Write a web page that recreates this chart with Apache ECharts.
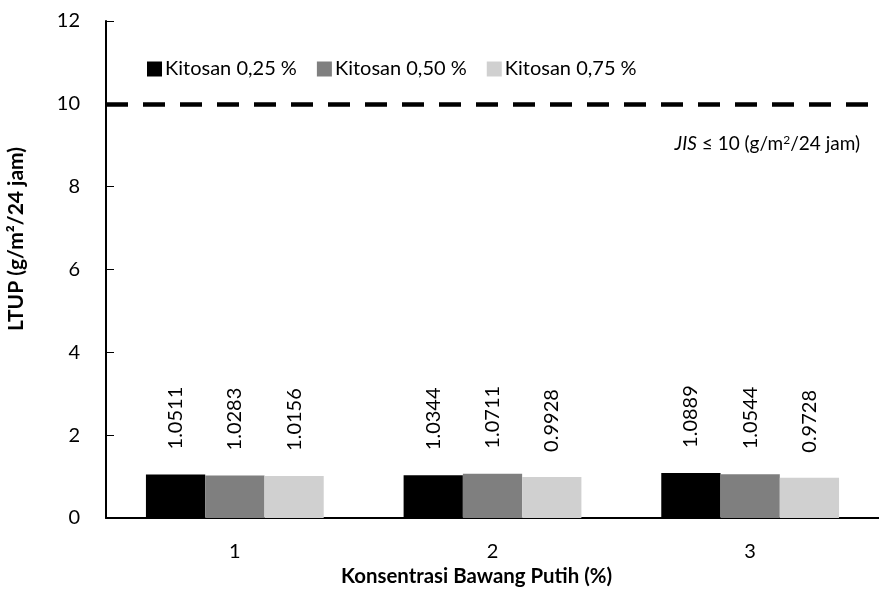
<!DOCTYPE html>
<html>
<head>
<meta charset="utf-8">
<script src="https://cdn.jsdelivr.net/npm/echarts@6/dist/echarts.min.js"></script>
<style>
  html, body { margin: 0; padding: 0; background: #fff; }
  #chart { width: 879px; height: 593px; }
</style>
</head>
<body>
<div id="chart"></div>
<script>
// data
const categories = ['1', '2', '3'];
const seriesNames = ['Kitosan 0,25 %', 'Kitosan 0,50 %', 'Kitosan 0,75 %'];
const kitosan025 = [1.0511, 1.0344, 1.0889];
const kitosan050 = [1.0283, 1.0711, 1.0544];
const kitosan075 = [1.0156, 0.9928, 0.9728];
const jisLimit = 10;
const yTicks = { min: 0, max: 12, interval: 2 };

const FONT = 'Lato';
const colors = ['#000000', '#7f7f7f', '#d0d0d0'];
const values = [kitosan025, kitosan050, kitosan075];

const chart = echarts.init(document.getElementById('chart'));

const series = values.map((vals, i) => ({
  name: seriesNames[i],
  type: 'bar',
  data: vals,
  barGap: '0%',
  barCategoryGap: '31%',
  itemStyle: { color: colors[i] },
  label: {
    show: true,
    position: 'top',
    rotate: 90,
    align: 'left',
    verticalAlign: 'middle',
    distance: 25,
    color: '#000',
    fontFamily: FONT,
    fontSize: 20,
    formatter: p => p.value.toFixed(4)
  }
}));

// JIS limit line
series[0].markLine = {
  silent: true,
  symbol: 'none',
  label: { show: false },
  lineStyle: { color: '#000', width: 4.5, type: [22, 15] },
  data: [{ yAxis: jisLimit }]
};

chart.setOption({
  animation: false,
  grid: { left: 106, right: -12, top: 21, bottom: 75 },
  legend: {
    data: seriesNames,
    left: 142, top: 54,
    itemWidth: 15, itemHeight: 15, itemGap: 20,
    icon: 'rect',
    textStyle: { fontFamily: FONT, fontSize: 20, color: '#000', padding: [0, 0, 0, -2] }
  },
  xAxis: {
    type: 'category',
    data: categories,
    axisLine: { lineStyle: { color: '#000', width: 2 } },
    axisTick: { inside: true, alignWithLabel: true, length: 6, lineStyle: { color: '#000' } },
    axisLabel: { fontFamily: FONT, fontSize: 20, color: '#000', margin: 24 }
  },
  yAxis: {
    type: 'value',
    min: yTicks.min, max: yTicks.max, interval: yTicks.interval,
    splitLine: { show: false },
    axisLine: { show: true, lineStyle: { color: '#000', width: 2 } },
    axisTick: { show: true, inside: true, length: 8, lineStyle: { color: '#000' } },
    axisLabel: { fontFamily: FONT, fontSize: 20, color: '#000', margin: 26 }
  },
  graphic: [
    {
      type: 'text',
      left: 341, top: 566,
      style: { text: 'Konsentrasi Bawang Putih (%)', font: 'bold 20.4px ' + FONT, fill: '#000' }
    },
    {
      type: 'text',
      x: 16, y: 239, rotation: Math.PI / 2,
      style: {
        text: 'LTUP (g/m²/24 jam)', font: 'bold 21px ' + FONT, fill: '#000',
        align: 'center', verticalAlign: 'middle'
      }
    },
    {
      type: 'text',
      right: 19, top: 134,
      style: {
        text: '{i|JIS} ≤ 10 (g/m{s|2}/24 jam)',
        font: '19px ' + FONT, fill: '#000',
        rich: {
          i: { fontStyle: 'italic', fontFamily: FONT, fontSize: 19 },
          s: { fontFamily: FONT, fontSize: 12, verticalAlign: 'top', padding: [0, 0, 8, 0] }
        }
      }
    }
  ],
  series: series
});
</script>
</body>
</html>
